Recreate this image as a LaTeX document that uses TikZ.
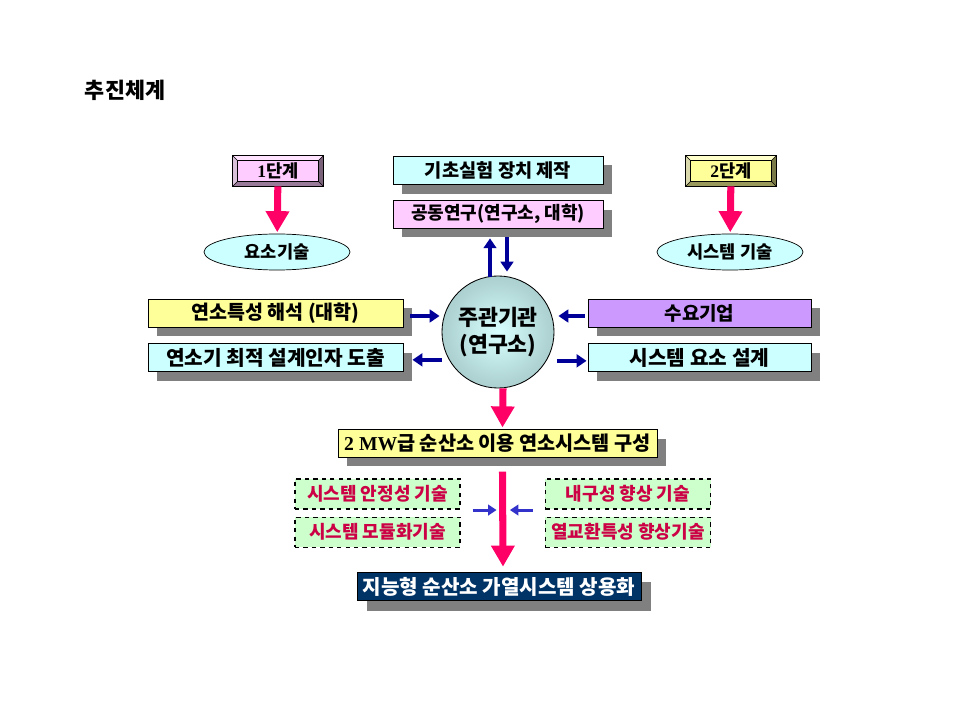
\documentclass[tikz,border=0pt]{standalone}
\usepackage{fontspec}
\setmainfont{Noto Sans CJK KR}
\newfontfamily\romanfont{Liberation Serif}
\usetikzlibrary{positioning,calc,shadows,arrows.meta,shapes.geometric}

\definecolor{pinkbox}{HTML}{FFCCFF}
\definecolor{cyanbox}{HTML}{CCFFFF}
\definecolor{yellowbox}{HTML}{FFFF99}
\definecolor{purplebox}{HTML}{CC99FF}
\definecolor{greenbox}{HTML}{CCFFCC}
\definecolor{navybox}{HTML}{003366}
\definecolor{redtext}{HTML}{CC0044}
\definecolor{pinkarrow}{HTML}{FF0066}
\definecolor{darkblue}{HTML}{000099}
\definecolor{midblue}{HTML}{3333CC}
\definecolor{shadowgray}{HTML}{808080}
\definecolor{ringin}{HTML}{D8FFFF}
\definecolor{ringmid}{HTML}{B0D4D4}
\definecolor{ringout}{HTML}{8CAAAA}

\pgfdeclareradialshading{ringshade}{\pgfpoint{0bp}{0bp}}{color(0bp)=(ringin); color(22bp)=(ringmid); color(50bp)=(ringout)}

\newcommand{\fs}[1]{\bfseries\fontsize{#1}{#1}\selectfont}

% bevelled frame round a node: name, light face, dark face
\newcommand{\bevelframe}[3]{%
  \fill[#2] (#1.north west) -- (#1.north east) -- ($(#1.north east)+(-5,5)$) -- ($(#1.north west)+(5,5)$) -- cycle;
  \fill[#2!85!black] (#1.north west) -- (#1.south west) -- ($(#1.south west)+(5,-5)$) -- ($(#1.north west)+(5,5)$) -- cycle;
  \fill[#3] (#1.south west) -- (#1.south east) -- ($(#1.south east)+(-5,-5)$) -- ($(#1.south west)+(5,-5)$) -- cycle;
  \fill[#3!80!black] (#1.north east) -- (#1.south east) -- ($(#1.south east)+(-5,-5)$) -- ($(#1.north east)+(-5,5)$) -- cycle;
  \draw[line width=0.5pt] (#1.north west) rectangle (#1.south east);
  \draw[line width=0.3pt] ($(#1.north west)+(5,5)$) rectangle ($(#1.south east)+(-5,-5)$);
  \draw[line width=0.3pt] (#1.north west) -- ++(5,5) (#1.north east) -- ++(-5,5)
    (#1.south west) -- ++(5,-5) (#1.south east) -- ++(-5,-5);}

\begin{document}
\begin{tikzpicture}[x=0.025cm,y=-0.025cm,
  box/.style={draw,line width=0.6pt,align=center,inner sep=0pt,minimum height=0.7cm,font=\fs{12.5}},
  shade/.style={drop shadow={shadow xshift=0.22cm,shadow yshift=-0.22cm,fill=shadowgray,opacity=1}},
  stepbox/.style={box,minimum width=2.25cm,minimum height=0.75cm,font=\fs{12.5}},
  techbox/.style={ellipse,draw,line width=0.5pt,fill=cyanbox,minimum width=3.65cm,minimum height=0.9cm,
    inner sep=0pt,font=\fs{12.5}},
  dashbox/.style={box,dashed,line width=0.8pt,fill=greenbox,text=redtext,minimum width=4.125cm,
    minimum height=0.75cm,font=\fs{12.8}},
  parrow/.style={pinkarrow,line width=5pt,-{Triangle[width=16pt,length=15pt]}},
  barrow/.style={darkblue,line width=2.8pt,-{Triangle[width=9pt,length=7pt]}},
  larrow/.style={midblue,line width=2.2pt,-{Triangle[width=7.5pt,length=6pt]}}]
\useasboundingbox (0,0) rectangle (960,720);

\node[anchor=west,font=\fs{15.5}] (title) at (80,90) {추진체계};

% stages
\node[stepbox,fill=pinkbox] (st1) at (278,171) {{\romanfont 1}단계};
\node[stepbox,fill=yellowbox] (st2) at (731,171) {{\romanfont 2}단계};
\bevelframe{st1}{pinkbox!55!white}{pinkbox!60!black}
\bevelframe{st2}{yellowbox!50!white}{yellowbox!60!black}
\node[techbox] (tech1) at (277,252) {요소기술};
\node[techbox] (tech2) at (730,252) {시스템 기술};
\draw[parrow,shorten >=1pt] (st1) -- (tech1);
\draw[parrow,shorten >=1pt] (st2) -- (tech2);

% upper boxes
\node[box,shade,fill=cyanbox,minimum width=5.25cm,minimum height=0.72cm,font=\fs{13.3}] (base) at (498,170.5) {기초실험 장치 제작};
\node[box,shade,fill=pinkbox,minimum width=5.25cm,minimum height=0.68cm,font=\fs{12.8},below=0.375cm of base] (gd) {공동연구(연구소, 대학)};

\node[circle,draw,line width=0.6pt,minimum size=2.8cm,inner sep=0pt,shading=ringshade,
  font=\bfseries\fontsize{15.4}{19}\selectfont,align=center] (ring) at (498,332) {주관기관\\(연구소)};

\draw[barrow] ($(ring.north)+(-8,1)$) -- ($(gd.south)+(-8,10)$);
\draw[barrow] ($(gd.south)+(9,9)$) -- ($(ring.north)+(9,-4)$);

% side boxes
\node[box,shade,fill=yellowbox,minimum width=6.375cm,font=\fs{13.9}] (yan) at (275.5,313) {연소특성 해석 (대학)};
\node[box,shade,fill=cyanbox,minimum width=6.375cm,font=\fs{14.4},below=0.4cm of yan] (opt) {연소기 최적 설계인자 도출};
\node[box,shade,fill=purplebox,minimum width=5.575cm,font=\fs{13.5}] (su) at (699.5,313) {수요기업};
\node[box,shade,fill=cyanbox,minimum width=5.575cm,font=\fs{14.4},below=0.4cm of su] (sys) {시스템 요소 설계};

\draw[barrow] ($(yan.east)+(7,3)$) -- ($(yan.east -| ring.west)+(-2,3)$);
\draw[barrow] ($(opt.east -| ring.west)+(0,2)$) -- ($(opt.east)+(9,2)$);
\draw[barrow] ($(su.west)+(-3,3)$) -- ($(su.west -| ring.east)+(4,3)$);
\draw[barrow] ($(sys.west -| ring.east)+(3,3)$) -- ($(sys.west)+(-1,3)$);

% lower part
\node[box,shade,fill=yellowbox,minimum width=7.975cm,minimum height=0.68cm,font=\fs{14}] (mw) at (497.5,443.5) {{\romanfont 2 MW}급 순산소 이용 연소시스템 구성};
\draw[parrow] ($(ring.south)+(5,0)$) -- ($(mw.north)+(5,-2)$);

\node[dashbox] (ds1) at (377.5,494) {시스템 안정성 기술};
\node[dashbox,below=0.175cm of ds1] (ds2) {시스템 모듈화기술};
\node[dashbox] (dr1) at (628,494) {내구성 향상 기술};
\node[dashbox,below=0.175cm of dr1] (dr2) {열교환특성 향상기술};

\node[box,drop shadow={shadow xshift=0.25cm,shadow yshift=-0.25cm,fill=shadowgray,opacity=1},
  fill=navybox,text=white,minimum width=7.1cm,minimum height=0.72cm,font=\fs{14.3}] (fin) at (499,586.5) {지능형 순산소 가열시스템 상용화};
\draw[parrow] ($(mw.south)+(5,14)$) -- ($(fin.north)+(4,-5)$);

\draw[larrow] ($(ds1.south east)!0.5!(ds2.north east)+(12,-3)$) -- ($(ds1.south east)!0.5!(ds2.north east)+(36,-3)$);
\draw[larrow] ($(dr1.south west)!0.5!(dr2.north west)+(-12,-3)$) -- ($(dr1.south west)!0.5!(dr2.north west)+(-35,-3)$);
\end{tikzpicture}
\end{document}
